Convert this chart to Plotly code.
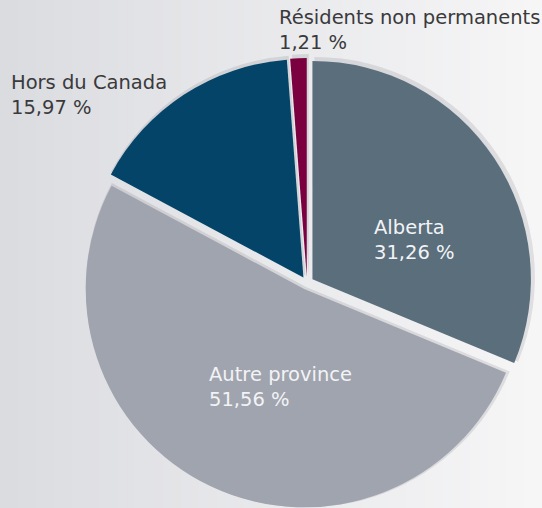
import plotly.graph_objects as go

# ---- data ----
labels = ["Alberta", "Autre province", "Hors du Canada", "Résidents non permanents"]
values = [31.26, 51.56, 15.97, 1.21]
value_text = ["31,26 %", "51,56 %", "15,97 %", "1,21 %"]
colors = ["#5a6e7c", "#a0a4ae", "#034468", "#7a0040"]
pulls = [0.03, 0.03, 0.03, 0.03]

W, H = 542, 508
cx = 307                    # pie centre x in pixels
half = 225                  # half of domain box

def dom_x(c, h):
    return [(c - h) / W, (c + h) / W]

fig = go.Figure()

# soft shadow behind the slices
fig.add_trace(go.Pie(
    labels=labels, values=values, sort=False, direction="clockwise", rotation=0,
    pull=pulls, textinfo="none", hoverinfo="skip", showlegend=False,
    marker=dict(colors=["rgba(60,60,70,0.12)"] * 4, line=dict(width=0)),
    domain=dict(x=dom_x(cx + 2, half + 3), y=[0, (2 * half + 4) / H]),
))

fig.add_trace(go.Pie(
    labels=labels, values=values, sort=False, direction="clockwise", rotation=0,
    pull=pulls, textinfo="none", showlegend=False,
    marker=dict(colors=colors, line=dict(width=0)),
    domain=dict(x=dom_x(cx, half), y=[0, (2 * half) / H]),
))

# background gradient (styling)
shapes = []
n = 60
c0 = (219, 220, 224)
c1 = (246, 246, 247)
for i in range(n):
    t = i / (n - 1)
    col = tuple(int(round(a + (b - a) * t)) for a, b in zip(c0, c1))
    shapes.append(dict(type="rect", xref="paper", yref="paper",
                       x0=i / n, x1=(i + 1) / n + 0.002, y0=0, y1=1,
                       fillcolor="rgb(%d,%d,%d)" % col, line=dict(width=0), layer="below"))

font_name = "'DejaVu Sans', Roboto, sans-serif"
dark = "#3a3a3c"
light = "#f2f3f5"

label_pos = {  # (left x px, top y px, colour)
    "Alberta": (372, 214, light),
    "Autre province": (207, 361, light),
    "Hors du Canada": (9, 69, dark),
    "Résidents non permanents": (277, 4, dark),
}

annotations = []
for lab, vt in zip(labels, value_text):
    x, y, col = label_pos[lab]
    annotations.append(dict(
        x=x / W, y=1 - y / H, xref="paper", yref="paper",
        xanchor="left", yanchor="top", align="left", showarrow=False,
        text=lab + "<br>" + vt,
        font=dict(family=font_name, size=19.5, color=col),
    ))

fig.update_layout(
    width=W, height=H,
    margin=dict(l=0, r=0, t=0, b=0),
    paper_bgcolor="#e8e9eb", plot_bgcolor="rgba(0,0,0,0)",
    shapes=shapes, annotations=annotations,
    showlegend=False,
)

fig.write_html("out.html", config={"displayModeBar": False},
               post_script="document.body.style.margin='0';document.body.style.overflow='hidden';")
